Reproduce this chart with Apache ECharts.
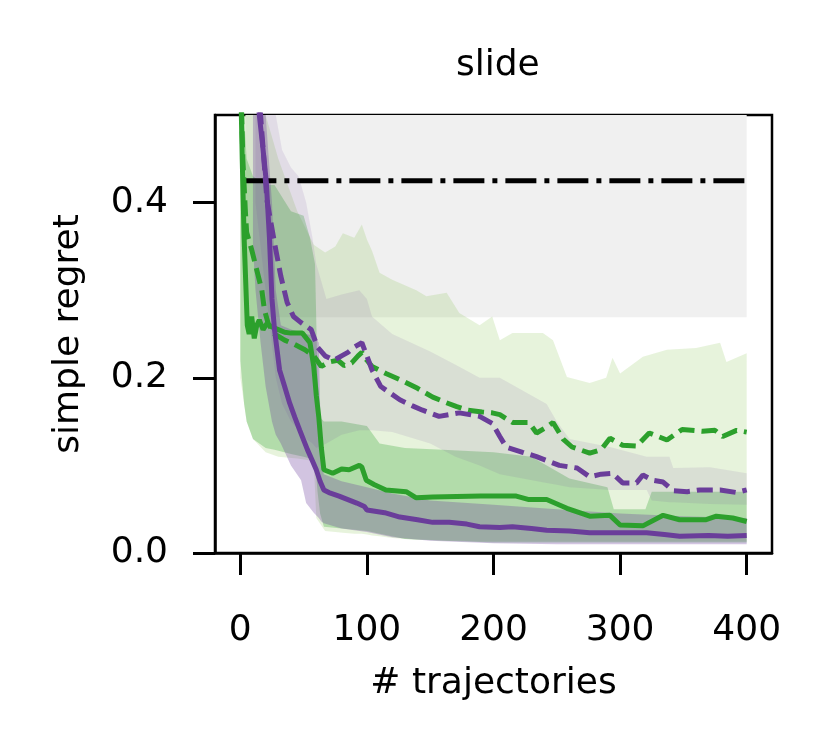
<!DOCTYPE html>
<html>
<head>
    <meta charset="UTF-8">
    <title>slide</title>
    <script src="https://cdn.jsdelivr.net/npm/echarts@6/dist/echarts.min.js"></script>
    <style>
        html, body { margin: 0; padding: 0; background: #fff; }
    </style>
</head>
<body>
<div id="chart" style="width:830px; height:747px;"></div>
<script>
    // tick labels
    var xTicks = [0, 100, 200, 300, 400];
    var yTicks = [0.0, 0.2, 0.4];

    // baseline (dash-dot) and its gray band
    var baseX = [4, 400];
    var baseY = [0.425, 0.425];
    var baseLo = [0.269, 0.269];
    var baseHi = [0.56, 0.56];

    // green solid
    var gsX = [0, 1.5, 3, 4.5, 5.5, 7, 9, 11, 13, 15, 18, 21, 25, 30, 35, 40, 49, 55, 58, 60, 62, 64, 66, 73, 80, 86, 94, 96, 99.5, 106, 115, 131, 139, 152, 190, 218, 228, 242, 258, 276, 292, 300, 318, 334, 347, 368, 376, 389, 400];
    var gsY = [0.56, 0.45, 0.36, 0.30, 0.26, 0.25, 0.27, 0.245, 0.26, 0.266, 0.255, 0.262, 0.258, 0.255, 0.252, 0.251, 0.251, 0.24, 0.213, 0.18, 0.155, 0.12, 0.095, 0.091, 0.096, 0.095, 0.10, 0.098, 0.083, 0.078, 0.072, 0.07, 0.063, 0.064, 0.065, 0.065, 0.061, 0.061, 0.051, 0.042, 0.043, 0.032, 0.031, 0.043, 0.038, 0.038, 0.042, 0.040, 0.036];

    // green dashed
    var gdX = [0, 2, 4, 5, 9, 13, 17, 19, 22, 27, 35, 43, 51, 58, 64, 70, 77, 82, 88, 93, 96, 100, 104, 115, 126, 140, 152, 162, 171, 180, 191, 199, 205, 215, 228, 234, 240, 247, 255, 262, 270, 276, 285, 292, 302, 313, 323, 337, 349, 365, 375, 381, 392, 400];
    var gdY = [0.56, 0.45, 0.39, 0.366, 0.346, 0.323, 0.30, 0.278, 0.262, 0.25, 0.243, 0.238, 0.232, 0.225, 0.213, 0.218, 0.22, 0.214, 0.217, 0.225, 0.229, 0.22, 0.213, 0.205, 0.198, 0.188, 0.178, 0.172, 0.167, 0.163, 0.161, 0.16, 0.158, 0.149, 0.149, 0.137, 0.142, 0.149, 0.13, 0.121, 0.117, 0.114, 0.118, 0.131, 0.123, 0.122, 0.137, 0.129, 0.141, 0.139, 0.14, 0.133, 0.14, 0.138];

    // purple solid
    var psX = [12, 15, 18, 20.5, 23, 25, 27, 31, 35, 39, 43, 47, 53, 57, 60, 63, 66, 70, 78, 85, 92, 98, 100, 114, 126, 140, 152, 165, 179, 189, 205, 215, 230, 242, 260, 276, 300, 321, 335, 347, 370, 385, 400];
    var psY = [0.56, 0.5, 0.46, 0.424, 0.36, 0.29, 0.255, 0.209, 0.19, 0.171, 0.155, 0.14, 0.118, 0.105, 0.095, 0.082, 0.072, 0.069, 0.065, 0.061, 0.057, 0.053, 0.049, 0.046, 0.041, 0.038, 0.035, 0.035, 0.033, 0.030, 0.029, 0.030, 0.028, 0.026, 0.025, 0.023, 0.023, 0.023, 0.021, 0.019, 0.020, 0.019, 0.020];

    // purple dashed
    var pdX = [14, 16, 21, 27, 32, 37, 42, 48, 56, 61, 67, 74, 80, 85, 90, 96, 100, 104, 111, 118, 126, 136, 144, 157, 173, 189, 199, 205, 210, 223, 234, 252, 266, 276, 285, 294, 302, 313, 318, 326, 334, 342, 353, 363, 379, 392, 400];
    var pdY = [0.56, 0.5, 0.403, 0.354, 0.316, 0.286, 0.27, 0.263, 0.255, 0.235, 0.225, 0.22, 0.225, 0.229, 0.235, 0.24, 0.225, 0.209, 0.19, 0.183, 0.175, 0.168, 0.163, 0.156, 0.16, 0.156, 0.148, 0.133, 0.121, 0.115, 0.11, 0.10, 0.097, 0.087, 0.09, 0.091, 0.08, 0.08, 0.089, 0.083, 0.081, 0.071, 0.07, 0.072, 0.072, 0.069, 0.072];

    // green solid band
    var gsbX = [0, 3, 5, 10, 20, 27, 40, 50, 55, 59, 61, 63, 66, 80, 100, 110, 130, 160, 200, 230, 260, 290, 295, 320, 325, 360, 400];
    var gsbHi = [0.56, 0.5, 0.45, 0.43, 0.42, 0.42, 0.39, 0.385, 0.36, 0.33, 0.2, 0.155, 0.15, 0.15, 0.145, 0.125, 0.12, 0.118, 0.115, 0.11, 0.085, 0.075, 0.05, 0.05, 0.07, 0.07, 0.07];
    var gsbLo = [0.22, 0.17, 0.15, 0.13, 0.12, 0.118, 0.113, 0.11, 0.108, 0.105, 0.07, 0.045, 0.03, 0.028, 0.025, 0.022, 0.016, 0.014, 0.012, 0.012, 0.012, 0.012, 0.012, 0.012, 0.012, 0.012, 0.012];

    // green dashed band
    var gdbX = [0, 5, 10, 20, 30, 45, 58, 60, 67, 75, 81, 90, 96, 100, 104, 110, 120, 139, 147, 163, 173, 189, 199, 205, 215, 239, 247, 258, 276, 289, 294, 300, 318, 337, 360, 379, 384, 400];
    var gdbHi = [0.56, 0.56, 0.55, 0.5, 0.45, 0.39, 0.352, 0.35, 0.343, 0.35, 0.365, 0.36, 0.375, 0.358, 0.345, 0.32, 0.312, 0.30, 0.293, 0.297, 0.274, 0.26, 0.27, 0.243, 0.251, 0.251, 0.243, 0.201, 0.194, 0.2, 0.223, 0.205, 0.224, 0.232, 0.234, 0.24, 0.218, 0.228];
    var gdbLo = [0.2, 0.15, 0.13, 0.115, 0.11, 0.108, 0.105, 0.04, 0.025, 0.024, 0.023, 0.022, 0.022, 0.021, 0.02, 0.019, 0.017, 0.015, 0.015, 0.014, 0.014, 0.013, 0.013, 0.013, 0.013, 0.013, 0.013, 0.013, 0.013, 0.013, 0.013, 0.013, 0.013, 0.013, 0.013, 0.013, 0.013, 0.013];

    // purple solid band
    var psbX = [10, 12, 16, 20, 25, 28, 32, 40, 48, 52, 58, 62, 64, 66, 80, 100, 120, 150, 200, 250, 300, 350, 400];
    var psbHi = [0.56, 0.56, 0.56, 0.5, 0.4, 0.3, 0.26, 0.255, 0.252, 0.25, 0.248, 0.24, 0.1, 0.09, 0.082, 0.075, 0.068, 0.06, 0.055, 0.05, 0.045, 0.042, 0.04];
    var psbLo = [0.35, 0.3, 0.24, 0.19, 0.15, 0.135, 0.125, 0.1, 0.083, 0.057, 0.046, 0.04, 0.036, 0.034, 0.028, 0.024, 0.018, 0.014, 0.011, 0.010, 0.010, 0.010, 0.010];

    // purple dashed band
    var pdbX = [12, 20, 28, 33, 40, 46, 52, 57, 60, 68, 80, 94, 100, 104, 120, 150, 170, 189, 205, 242, 250, 260, 292, 295, 321, 325, 339, 342, 371, 400];
    var pdbHi = [0.56, 0.56, 0.5, 0.46, 0.44, 0.43, 0.4, 0.36, 0.33, 0.29, 0.295, 0.30, 0.29, 0.27, 0.25, 0.23, 0.215, 0.2, 0.2, 0.17, 0.15, 0.13, 0.121, 0.12, 0.11, 0.11, 0.11, 0.097, 0.098, 0.091];
    var pdbLo = [0.4, 0.3, 0.2, 0.17, 0.15, 0.14, 0.13, 0.125, 0.12, 0.125, 0.135, 0.14, 0.14, 0.14, 0.138, 0.125, 0.11, 0.1, 0.09, 0.08, 0.078, 0.075, 0.072, 0.072, 0.072, 0.06, 0.058, 0.058, 0.056, 0.055];

    var GREEN = '#2ca02c';
    var PURPLE = '#6a3d9a';
    var FONT = 'DejaVu Sans';

    function pairs(xs, ys) {
        return xs.map(function (x, i) { return [x, ys[i]]; });
    }

    // filled band between lo and hi, drawn as one polygon through the axes
    function band(xs, lo, hi, color) {
        var data = xs.map(function (x, i) { return [x, lo[i], hi[i]]; });
        return {
            type: 'custom',
            silent: true,
            data: data,
            encode: {x: 0, y: [1, 2]},
            renderItem: function (params, api) {
                if (params.dataIndex !== 0) return;
                var top = data.map(function (d) { return api.coord([d[0], d[2]]); });
                var bot = data.map(function (d) { return api.coord([d[0], d[1]]); }).reverse();
                var cs = params.coordSys;
                return {
                    type: 'group',
                    clipPath: {type: 'rect', shape: {x: cs.x, y: cs.y, width: cs.width, height: cs.height}},
                    children: [{
                        type: 'polygon',
                        shape: {points: top.concat(bot)},
                        style: {fill: color}
                    }]
                };
            }
        };
    }

    function line(xs, ys, color, dash) {
        return {
            type: 'line',
            data: pairs(xs, ys),
            showSymbol: false,
            silent: true,
            animation: false,
            lineStyle: {color: color, width: 5, type: dash || 'solid', cap: 'butt'}
        };
    }

    var chart = echarts.init(document.getElementById('chart'), null, {renderer: 'canvas'});
    var option = {
        animation: false,
        backgroundColor: '#fff',
        title: {
            text: 'slide',
            left: 451,
            top: 43,
            textStyle: {fontFamily: FONT, fontSize: 36, fontWeight: 'normal', color: '#000'}
        },
        grid: {
            left: 215, right: 58, top: 115, bottom: 194,
            show: true, borderColor: '#000', borderWidth: 2.5,
            outerBoundsMode: 'none'
        },
        xAxis: {
            type: 'value',
            min: -20,
            max: 420,
            name: '# trajectories',
            nameLocation: 'middle',
            nameGap: 113,
            nameTextStyle: {fontFamily: FONT, fontSize: 36, color: '#000'},
            splitLine: {show: false},
            axisLine: {show: true, onZero: false, lineStyle: {color: '#000', width: 2.5}},
            axisTick: {show: true, length: 22, customValues: xTicks, lineStyle: {color: '#000', width: 3}},
            axisLabel: {customValues: xTicks, margin: 60, fontFamily: FONT, fontSize: 36, color: '#000'}
        },
        yAxis: {
            type: 'value',
            min: 0,
            max: 0.5,
            name: 'simple regret',
            nameLocation: 'middle',
            nameGap: 128,
            nameRotate: 90,
            nameTextStyle: {fontFamily: FONT, fontSize: 36, color: '#000'},
            splitLine: {show: false},
            axisLine: {show: true, onZero: false, lineStyle: {color: '#000', width: 2.5}},
            axisTick: {show: true, length: 22, customValues: yTicks, lineStyle: {color: '#000', width: 3}},
            axisLabel: {
                customValues: yTicks, margin: 47, fontFamily: FONT, fontSize: 36, color: '#000',
                formatter: function (v) { return v.toFixed(1); }
            }
        },
        series: [
            band(baseX, baseLo, baseHi, '#f0f0f0'),
            band(gdbX, gdbLo, gdbHi, 'rgba(120,190,60,0.18)'),
            band(gsbX, gsbLo, gsbHi, 'rgba(44,160,44,0.28)'),
            band(pdbX, pdbLo, pdbHi, 'rgba(106,61,154,0.11)'),
            band(psbX, psbLo, psbHi, 'rgba(106,61,154,0.3)'),
            line(baseX, baseY, '#000', [31, 8, 5, 8]),
            line(gdX, gdY, GREEN, [16, 7]),
            line(pdX, pdY, PURPLE, [16, 7]),
            line(gsX, gsY, GREEN),
            line(psX, psY, PURPLE)
        ]
    };
    chart.setOption(option);
</script>
</body>
</html>
